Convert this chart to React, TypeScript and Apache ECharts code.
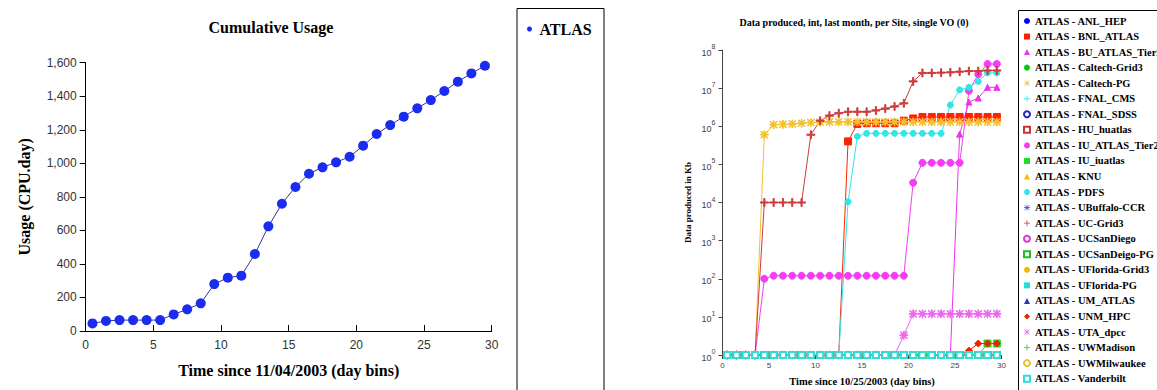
import React, { useEffect, useRef } from "react";
import * as echarts from "echarts";

// ---------- Left chart data ----------
const dayBins = [0.5, 1.5, 2.5, 3.5, 4.5, 5.5, 6.5, 7.5, 8.5, 9.5, 10.5, 11.5, 12.5, 13.5, 14.5, 15.5, 16.5, 17.5, 18.5, 19.5, 20.5, 21.5, 22.5, 23.5, 24.5, 25.5, 26.5, 27.5, 28.5, 29.5];
const usageAtlas = [45, 60, 65, 65, 65, 65, 99, 129, 165, 280, 318, 330, 459, 624, 759, 859, 938, 976, 1006, 1039, 1105, 1175, 1228, 1278, 1328, 1377, 1431, 1487, 1536, 1582];

// ---------- Right chart data (Kb, log scale; 1 = nothing produced) ----------
const flatAtOne = [1, 1, 1, 1, 1, 1, 1, 1, 1, 1, 1, 1, 1, 1, 1, 1, 1, 1, 1, 1, 1, 1, 1, 1, 1, 1, 1, 1, 1, 1];
const bnlAtlas = [1, 1, 1, 1, 1, 1, 1, 1, 1, 1, 1, 1, 1, 4e5, 1.15e6, 1.2e6, 1.2e6, 1.2e6, 1.2e6, 1.4e6, 1.6e6, 1.75e6, 1.75e6, 1.75e6, 1.75e6, 1.75e6, 1.75e6, 1.75e6, 1.75e6, 1.75e6];
const buAtlasTier2 = [1, 1, 1, 1, 1, 1, 1, 1, 1, 1, 1, 1, 1, 1, 1, 1, 1, 1, 1, 1, 1, 1, 1, 1, 1, 6.2e5, 4.3e6, 5.5e6, 1.05e7, 1.05e7];
const caltechPg = [1, 1, 1, 1, 6e5, 1.1e6, 1.12e6, 1.15e6, 1.2e6, 1.25e6, 1.28e6, 1.3e6, 1.3e6, 1.3e6, 1.3e6, 1.3e6, 1.3e6, 1.3e6, 1.3e6, 1.3e6, 1.3e6, 1.3e6, 1.3e6, 1.3e6, 1.3e6, 1.3e6, 1.3e6, 1.3e6, 1.3e6, 1.3e6];
const iuAtlasTier2 = [1, 1, 1, 1, 100, 120, 120, 120, 120, 120, 120, 120, 120, 120, 120, 120, 120, 120, 120, 120, 3.3e4, 1.1e5, 1.1e5, 1.1e5, 1.1e5, 1.1e5, 8.5e6, 2.3e7, 4.3e7, 4.3e7];
const iuIuatlas = [1, 1, 1, 1, 1, 1, 1, 1, 1, 1, 1, 1, 1, 1, 1, 1, 1, 1, 1, 1, 1, 1, 1, 1, 1, 1, 1, 1, 2, 2];
const pdfs = [1, 1, 1, 1, 1, 1, 1, 1, 1, 1, 1, 1, 1, 1.05e4, 5.4e5, 6.5e5, 6.5e5, 6.5e5, 6.5e5, 6.5e5, 6.5e5, 6.5e5, 6.5e5, 6.5e5, 3.6e6, 9e6, 1.05e7, 1.5e7, 2.5e7, 2.5e7];
const ucGrid3 = [1, 1, 1, 1, 1e4, 1e4, 1e4, 1e4, 1e4, 6e5, 1.4e6, 1.9e6, 2.2e6, 2.4e6, 2.4e6, 2.4e6, 2.6e6, 2.9e6, 3.3e6, 4e6, 1.5e7, 2.5e7, 2.5e7, 2.55e7, 2.6e7, 2.7e7, 2.8e7, 2.8e7, 2.9e7, 2.9e7];
const unmHpc = [1, 1, 1, 1, 1, 1, 1, 1, 1, 1, 1, 1, 1, 1, 1, 1, 1, 1, 1, 1, 1, 1, 1, 1, 1, 1, 1.3, 2, 2, 2];
const utaDpcc = [1, 1, 1, 1, 1, 1, 1, 1, 1, 1, 1, 1, 1, 1, 1, 1, 1, 1, 1, 3.3, 12, 12, 12, 12, 12, 12, 12, 12, 12, 12];

const PLUS = "path://M4.3,0H5.7V4.3H10V5.7H5.7V10H4.3V5.7H0V4.3H4.3Z";
const STAR = "path://M4.5,0H5.5V4.5H10V5.5H5.5V10H4.5V5.5H0V4.5H4.5Z M1.2,0.5L5,4.3L8.8,0.5L9.5,1.2L5.7,5L9.5,8.8L8.8,9.5L5,5.7L1.2,9.5L0.5,8.8L4.3,5L0.5,1.2Z";

type SiteDef = { name: string; data: number[]; symbol: string; color: string; size: number };

const sites: SiteDef[] = [
  { name: "ATLAS - ANL_HEP", data: flatAtOne, symbol: "circle", color: "#0000ff", size: 4 },
  { name: "ATLAS - BNL_ATLAS", data: bnlAtlas, symbol: "rect", color: "#ff2200", size: 7 },
  { name: "ATLAS - BU_ATLAS_Tier2", data: buAtlasTier2, symbol: "triangle", color: "#ee33ee", size: 6 },
  { name: "ATLAS - Caltech-Grid3", data: flatAtOne, symbol: "circle", color: "#00cc00", size: 4 },
  { name: "ATLAS - Caltech-PG", data: caltechPg, symbol: STAR, color: "#f2c12e", size: 8 },
  { name: "ATLAS - FNAL_CMS", data: flatAtOne, symbol: PLUS, color: "#33eeee", size: 6 },
  { name: "ATLAS - FNAL_SDSS", data: flatAtOne, symbol: "emptyCircle", color: "#2222cc", size: 5 },
  { name: "ATLAS - HU_huatlas", data: flatAtOne, symbol: "emptyRect", color: "#cc3333", size: 6 },
  { name: "ATLAS - IU_ATLAS_Tier2", data: iuAtlasTier2, symbol: "circle", color: "#f53cf5", size: 7 },
  { name: "ATLAS - IU_iuatlas", data: iuIuatlas, symbol: "rect", color: "#22dd22", size: 7 },
  { name: "ATLAS - KNU", data: flatAtOne, symbol: "triangle", color: "#f5c000", size: 5 },
  { name: "ATLAS - PDFS", data: pdfs, symbol: "circle", color: "#30e6e6", size: 6 },
  { name: "ATLAS - UBuffalo-CCR", data: flatAtOne, symbol: STAR, color: "#3344cc", size: 6 },
  { name: "ATLAS - UC-Grid3", data: ucGrid3, symbol: PLUS, color: "#cc3c3c", size: 8 },
  { name: "ATLAS - UCSanDiego", data: flatAtOne, symbol: "emptyCircle", color: "#dd33dd", size: 5 },
  { name: "ATLAS - UCSanDeigo-PG", data: flatAtOne, symbol: "emptyRect", color: "#22bb22", size: 6 },
  { name: "ATLAS - UFlorida-Grid3", data: flatAtOne, symbol: "circle", color: "#f5b800", size: 4 },
  { name: "ATLAS - UFlorida-PG", data: flatAtOne, symbol: "rect", color: "#22dddd", size: 5 },
  { name: "ATLAS - UM_ATLAS", data: flatAtOne, symbol: "triangle", color: "#2233cc", size: 5 },
  { name: "ATLAS - UNM_HPC", data: unmHpc, symbol: "diamond", color: "#ee2200", size: 7 },
  { name: "ATLAS - UTA_dpcc", data: utaDpcc, symbol: STAR, color: "#ee66ee", size: 8 },
  { name: "ATLAS - UWMadison", data: flatAtOne, symbol: PLUS, color: "#22cc22", size: 6 },
  { name: "ATLAS - UWMilwaukee", data: flatAtOne, symbol: "emptyCircle", color: "#e8c030", size: 5 },
  { name: "ATLAS - Vanderbilt", data: flatAtOne, symbol: "emptyRect", color: "#30dddd", size: 6 },
];

const SERIF = '"Liberation Serif", "Times New Roman", serif';
const SANS = '"Liberation Sans", Arial, sans-serif';

export default function App() {
  const ref = useRef<HTMLDivElement>(null);

  useEffect(() => {
    if (!ref.current) return;
    const chart = echarts.init(ref.current, null, { renderer: "svg" });

    const siteSeries = sites.map((s) => ({
      name: s.name,
      type: "line",
      xAxisIndex: 1,
      yAxisIndex: 1,
      data: dayBins.map((x, i) => [x, s.data[i]]),
      symbol: s.symbol,
      symbolSize: s.size,
      showAllSymbol: true,
      lineStyle: { color: s.color, width: 1 },
      itemStyle: { color: s.color, borderColor: s.color },
      emphasis: { disabled: true },
    }));

    const option: any = {
      animation: false,
      backgroundColor: "#ffffff",
      graphic: [
        {
          type: "text",
          x: 271,
          y: 27,
          style: { text: "Cumulative Usage", font: `bold 16px ${SERIF}`, fill: "#000", textAlign: "center", textVerticalAlign: "middle" },
        },
        {
          type: "text",
          x: 854,
          y: 22,
          style: { text: "Data produced, int, last month, per Site, single VO (0)", font: `bold 10px ${SERIF}`, fill: "#000", textAlign: "center", textVerticalAlign: "middle" },
        },
        {
          type: "rect",
          shape: { x: 517, y: 8.5, width: 87, height: 400 },
          style: { fill: "none", stroke: "#000", lineWidth: 1 },
        },
        {
          type: "rect",
          shape: { x: 1018.5, y: 10.5, width: 200, height: 400 },
          style: { fill: "none", stroke: "#000", lineWidth: 1 },
        },
      ],
      legend: [
        {
          data: [{ name: "ATLAS", icon: "circle" }],
          orient: "vertical",
          left: 522,
          top: 16,
          itemWidth: 10,
          itemHeight: 5,
          itemGap: 5,
          textStyle: { fontFamily: SERIF, fontWeight: "bold", fontSize: 16, color: "#000" },
          selectedMode: false,
        },
        {
          data: sites.map((s) => ({ name: s.name, icon: s.symbol })),
          orient: "vertical",
          left: 1018,
          top: 10,
          itemWidth: 6,
          itemHeight: 6,
          itemGap: 3.55,
          textStyle: { fontFamily: SERIF, fontWeight: "bold", fontSize: 10.5, color: "#000", lineHeight: 12 },
          selectedMode: false,
        },
      ],
      grid: [
        { left: 85.7, top: 62.7, width: 406, height: 268.3, containLabel: false, outerBoundsMode: "none" },
        { left: 722.5, top: 50, width: 279, height: 305, containLabel: false, outerBoundsMode: "none" },
      ],
      xAxis: [
        {
          type: "value",
          gridIndex: 0,
          min: 0,
          max: 30,
          interval: 5,
          name: "Time since 11/04/2003 (day bins)",
          nameLocation: "middle",
          nameGap: 31,
          nameTextStyle: { fontFamily: SERIF, fontWeight: "bold", fontSize: 16, color: "#000" },
          axisLine: { lineStyle: { color: "#000", width: 1 } },
          axisTick: { inside: true, length: 6, lineStyle: { color: "#000" } },
          axisLabel: { fontFamily: SANS, fontSize: 12, color: "#333", margin: 8 },
          splitLine: { show: false },
        },
        {
          type: "value",
          gridIndex: 1,
          min: 0,
          max: 30,
          interval: 5,
          name: "Time since 10/25/2003 (day bins)",
          nameLocation: "middle",
          nameGap: 21,
          nameTextStyle: { fontFamily: SERIF, fontWeight: "bold", fontSize: 10.5, color: "#000" },
          axisLine: { lineStyle: { color: "#444", width: 1 } },
          axisTick: { length: 4, lineStyle: { color: "#444" } },
          axisLabel: { fontFamily: SANS, fontSize: 8, color: "#444", margin: 6 },
          splitLine: { show: false },
        },
      ],
      yAxis: [
        {
          type: "value",
          gridIndex: 0,
          min: 0,
          max: 1600,
          interval: 200,
          name: "Usage (CPU.day)",
          nameLocation: "middle",
          nameGap: 53,
          nameTextStyle: { fontFamily: SERIF, fontWeight: "bold", fontSize: 16, color: "#000" },
          axisLine: { show: true, lineStyle: { color: "#000", width: 1 } },
          axisTick: { show: true, length: 6, lineStyle: { color: "#000" } },
          axisLabel: {
            fontFamily: SANS,
            fontSize: 12,
            color: "#333",
            margin: 9,
            formatter: (v: number) => v.toLocaleString("en-US"),
          },
          splitLine: { show: false },
        },
        {
          type: "log",
          gridIndex: 1,
          logBase: 10,
          min: 1,
          max: 1e8,
          splitNumber: 8,
          name: "Data produced in Kb",
          nameLocation: "middle",
          nameGap: 30,
          nameTextStyle: { fontFamily: SERIF, fontWeight: "bold", fontSize: 9, color: "#000" },
          axisLine: { show: true, lineStyle: { color: "#444", width: 1 } },
          axisTick: { show: true, length: 4, lineStyle: { color: "#444" } },
          axisLabel: {
            fontFamily: SANS,
            color: "#444",
            margin: 7,
            formatter: (v: number) => {
              const p = Math.round(Math.log10(v));
              return `{b|10}{s|${p}}`;
            },
            rich: {
              b: { fontFamily: SANS, fontSize: 9, color: "#444", lineHeight: 14, verticalAlign: "bottom" },
              s: { fontFamily: SANS, fontSize: 7, color: "#444", verticalAlign: "top" },
            },
          },
          splitLine: { show: false },
        },
      ],
      series: [
        {
          name: "ATLAS",
          type: "line",
          xAxisIndex: 0,
          yAxisIndex: 0,
          data: dayBins.map((x, i) => [x, usageAtlas[i]]),
          symbol: "circle",
          symbolSize: 10,
          showAllSymbol: true,
          lineStyle: { color: "#333399", width: 1 },
          itemStyle: { color: "#1a2cf0" },
          emphasis: { disabled: true },
        },
        ...siteSeries,
      ],
    };

    chart.setOption(option);
    return () => chart.dispose();
  }, []);

  return (
    <div
      ref={ref}
      style={{ position: "absolute", left: 0, top: 0, width: 1157, height: 390, background: "#fff" }}
    />
  );
}
